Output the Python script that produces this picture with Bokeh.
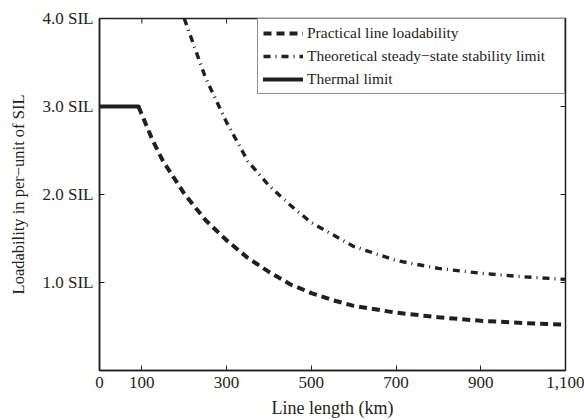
import math
from bokeh.plotting import figure
from bokeh.models import FixedTicker, Range1d, Legend, LegendItem
from bokeh.embed import file_html
from bokeh.resources import INLINE

# ---- data ----
thermal_km = [0, 92]
thermal_sil = [3.0, 3.0]

practical_km = [92, 125, 150, 200, 250, 300, 350, 400, 450, 500, 550, 600, 700, 800, 900, 1000, 1100]
practical_sil = [3.0, 2.62, 2.38, 2.01, 1.71, 1.48, 1.28, 1.12, 0.98, 0.88, 0.80, 0.735, 0.657, 0.605, 0.565, 0.54, 0.52]

theoretical_km = [200, 250, 300, 350, 400, 450, 500, 600, 700, 800, 900, 1000, 1100]
theoretical_sil = [4.0, 3.33, 2.82, 2.38, 2.10, 1.88, 1.68, 1.41, 1.25, 1.16, 1.105, 1.065, 1.035]

x_ticks = [0, 100, 300, 500, 700, 900, 1100]
x_tick_labels = {1100: "1,100"}
y_ticks = [1, 2, 3, 4]
y_tick_labels = {1: "1.0 SIL", 2: "2.0 SIL", 3: "3.0 SIL", 4: "4.0 SIL"}

X_MAX = 1100
Y_MAX = 4

INK = "#231f20"
FONT = "Liberation Serif"

p = figure(width=584, height=420, output_backend="svg", toolbar_location=None,
           x_range=Range1d(0, X_MAX), y_range=Range1d(0, Y_MAX),
           min_border_left=99, min_border_right=19, min_border_top=18, min_border_bottom=48)
p.grid.visible = False
p.outline_line_color = INK
p.outline_line_width = 1.5
p.background_fill_color = "white"
p.border_fill_color = "white"

r_prac = p.line(practical_km, practical_sil, line_color=INK, line_width=4, line_dash="8 5")
r_theo = p.line(theoretical_km, theoretical_sil, line_color=INK, line_width=3.4, line_dash="7 5 1 5")
r_therm = p.line(thermal_km, thermal_sil, line_color=INK, line_width=4, line_cap="round", line_join="round")

# mirrored inward ticks on the top and right edges
p.ray(x=x_ticks, y=[Y_MAX] * len(x_ticks), length=5, length_units="screen",
      angle=-math.pi / 2, line_color=INK, line_width=1)
p.ray(x=[X_MAX] * len(y_ticks), y=y_ticks, length=5, length_units="screen",
      angle=math.pi, line_color=INK, line_width=1)

def style_axis(ax):
    ax.axis_line_color = INK
    ax.axis_line_width = 1.5
    ax.major_tick_in = 5
    ax.major_tick_out = 0
    ax.major_tick_line_color = INK
    ax.minor_tick_line_color = None
    ax.major_label_text_font = FONT
    ax.major_label_text_font_size = "17px"
    ax.major_label_text_color = INK
    ax.major_label_standoff = 6

xa = p.xaxis[0]
xa.ticker = FixedTicker(ticks=x_ticks)
xa.major_label_overrides = x_tick_labels
style_axis(xa)
xa.axis_label = "Line length (km)"
xa.axis_label_text_font = FONT
xa.axis_label_text_font_style = "normal"
xa.axis_label_text_font_size = "18px"
xa.axis_label_text_color = INK
xa.axis_label_standoff = 7

ya = p.yaxis[0]
ya.ticker = FixedTicker(ticks=y_ticks)
ya.major_label_overrides = y_tick_labels
style_axis(ya)
ya.axis_label = "Loadability in per\u2212unit of SIL"
ya.axis_label_text_font = FONT
ya.axis_label_text_font_style = "normal"
ya.axis_label_text_font_size = "16.5px"
ya.axis_label_text_color = INK
ya.axis_label_standoff = 12

legend = Legend(items=[
    LegendItem(label="Practical line loadability", renderers=[r_prac]),
    LegendItem(label="Theoretical steady\u2212state stability limit", renderers=[r_theo]),
    LegendItem(label="Thermal limit", renderers=[r_therm]),
], location="top_right", margin=0, padding=5, spacing=5,
   label_text_font=FONT, label_text_font_size="15.5px", label_text_color=INK,
   glyph_width=40, glyph_height=16, label_standoff=4, label_height=16, label_width=252,
   border_line_color=INK, border_line_width=1.5, background_fill_alpha=1.0)
p.add_layout(legend, "center")

open("out.html", "w").write(file_html(p, INLINE))
